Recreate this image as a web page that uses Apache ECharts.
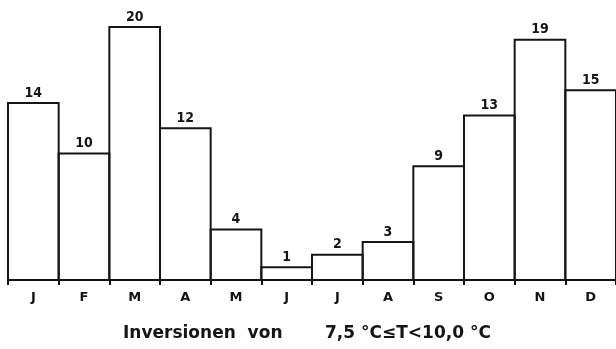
<!DOCTYPE html>
<html>
<head>
<meta charset="utf-8">
<script src="https://cdn.jsdelivr.net/npm/echarts@6/dist/echarts.min.js"></script>
<style>
  html, body { margin: 0; padding: 0; background: #fff; }
  #chart { width: 616px; height: 349px; }
</style>
</head>
<body>
<div id="chart"></div>
<script>
// Monthly count of inversions in the temperature class 7.5 °C ≤ T < 10.0 °C
const months = ['J', 'F', 'M', 'A', 'M', 'J', 'J', 'A', 'S', 'O', 'N', 'D'];
const counts = [14, 10, 20, 12, 4, 1, 2, 3, 9, 13, 19, 15];
const captionLeft = 'Inversionen  von';
const captionRight = '7,5 °C≤T<10,0 °C';

const ink = '#151515';
const labelFont = '"DejaVu Sans Condensed", "DejaVu Sans", sans-serif';
const axisFont = '"DejaVu Sans", sans-serif';

// Outline each bar as an open step (left, top, right edges) so that
// neighbouring bars share a single dividing line.
function renderBar(params, api) {
  const i = api.value(0);
  const v = api.value(1);
  const top = api.coord([i, v]);
  const base = api.coord([i, 0]);
  const w = api.size([1, 0])[0];
  const x0 = top[0] - w / 2;
  const x1 = top[0] + w / 2;
  return {
    type: 'group',
    children: [
      {
        type: 'polyline',
        shape: { points: [[x0, base[1]], [x0, top[1]], [x1, top[1]], [x1, base[1]]] },
        style: { fill: null, stroke: ink, lineWidth: 2, lineJoin: 'miter' }
      },
      {
        type: 'text',
        x: top[0],
        y: top[1] - 3,
        style: {
          text: String(v),
          fill: ink,
          font: 'bold 14px ' + labelFont,
          align: 'center',
          verticalAlign: 'bottom'
        }
      }
    ]
  };
}

const chart = echarts.init(document.getElementById('chart'), null, { renderer: 'canvas' });
chart.setOption({
  animation: false,
  backgroundColor: '#fff',
  grid: { left: 8, top: 27, width: 608, height: 253, containLabel: false },
  xAxis: {
    type: 'category',
    data: months,
    boundaryGap: true,
    axisLine: { show: true, lineStyle: { color: ink, width: 2 } },
    axisTick: { show: true, alignWithLabel: false, length: 5, lineStyle: { color: ink, width: 2 } },
    axisLabel: { color: ink, fontFamily: axisFont, fontSize: 13, fontWeight: 'bold', margin: 11 }
  },
  yAxis: { type: 'value', min: 0, max: 20, show: false },
  series: [{
    type: 'custom',
    renderItem: renderBar,
    data: counts.map((c, i) => [i, c]),
    encode: { x: 0, y: 1 },
    z: 3
  }],
  graphic: [
    {
      type: 'text',
      left: 123,
      top: 325,
      style: { text: captionLeft, fill: ink, font: 'bold 17px ' + axisFont }
    },
    {
      type: 'text',
      left: 325,
      top: 325,
      style: { text: captionRight, fill: ink, font: 'bold 17px ' + axisFont }
    }
  ]
});
</script>
</body>
</html>
